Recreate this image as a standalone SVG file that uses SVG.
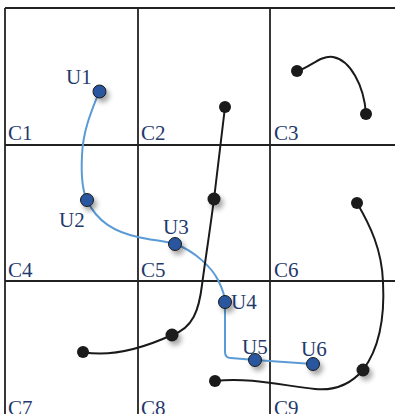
<svg xmlns="http://www.w3.org/2000/svg" width="395" height="414" viewBox="0 0 395 414">
<defs>
<filter id="sh" x="-100%" y="-100%" width="300%" height="300%">
<feDropShadow dx="3" dy="4" stdDeviation="2.5" flood-color="#000" flood-opacity="0.35"/>
</filter>
<style>
.grid{stroke:#222;stroke-width:1.8;fill:none}
.lbl{font-family:"Liberation Serif","Times New Roman",serif;font-size:21px;fill:#1f3a6b}
.blue{stroke:#5b9bd5;stroke-width:2;fill:none}
.blk{stroke:#1a1a1a;stroke-width:2;fill:none}
.u{fill:#2a56a0;stroke:#1a1a1a;stroke-width:1}
.d{fill:#1a1a1a}
</style>
</defs>
<rect width="395" height="414" fill="#fff"/>
<g id="grid" class="grid">
<line x1="5" y1="8" x2="5" y2="414"/>
<line x1="138" y1="8" x2="138" y2="414"/>
<line x1="270" y1="8" x2="270" y2="414"/>
<line x1="5" y1="8" x2="395" y2="8"/>
<line x1="5" y1="145" x2="395" y2="145"/>
<line x1="5" y1="281" x2="395" y2="281"/>
</g>
<g id="cells" class="lbl">
<text id="C1" x="8" y="140">C1</text>
<text id="C2" x="141" y="140">C2</text>
<text id="C3" x="274" y="140">C3</text>
<text id="C4" x="8" y="277">C4</text>
<text id="C5" x="141" y="277">C5</text>
<text id="C6" x="274" y="277">C6</text>
<text id="C7" x="8" y="415">C7</text>
<text id="C8" x="141" y="415">C8</text>
<text id="C9" x="274" y="415">C9</text>
</g>
<g id="connectors">
<path class="blue" d="M99,92 C92,110 83,130 82,155 C81,175 82,190 87,200 C97,222 115,232 138,237 C150,240 165,241 175,244 C195,251 212,268 218,280 C222,288 225,295 225,302 L225,352 Q225,358 231,358 L255,360 L313,364"/>
<path class="blk" d="M225,107 L214,199 C210,230 205,262 202,285 C199,310 193,328 172,335 C150,345 115,358 83,352"/>
<path class="blk" d="M297,71 C310,68 320,55 333,57 C350,60 364,85 366,114"/>
<path class="blk" d="M357,203 C370,225 382,250 383,282 C385,320 378,350 363,370 C350,385 335,391 315,389 C285,386 250,377 215,381"/>
</g>
<g id="dots">
<circle id="d1" class="d" cx="225" cy="107" r="6"/>
<circle id="d2" class="d" cx="214" cy="199" r="6.5" filter="url(#sh)"/>
<circle id="d3" class="d" cx="172" cy="335" r="6.5" filter="url(#sh)"/>
<circle id="d4" class="d" cx="83" cy="352" r="6"/>
<circle id="d5" class="d" cx="297" cy="71" r="6"/>
<circle id="d6" class="d" cx="366" cy="114" r="6"/>
<circle id="d7" class="d" cx="357" cy="203" r="6"/>
<circle id="d8" class="d" cx="363" cy="370" r="6.5" filter="url(#sh)"/>
<circle id="d9" class="d" cx="215" cy="381" r="6"/>
</g>
<g id="U1"><circle class="u" cx="99.5" cy="91.5" r="6.5" filter="url(#sh)"/><text class="lbl" x="66" y="84">U1</text></g>
<g id="U2"><circle class="u" cx="87" cy="200" r="6.5" filter="url(#sh)"/><text class="lbl" x="59" y="227">U2</text></g>
<g id="U3"><circle class="u" cx="175" cy="244" r="6.5" filter="url(#sh)"/><text class="lbl" x="163" y="234">U3</text></g>
<g id="U4"><circle class="u" cx="225" cy="302" r="6.5" filter="url(#sh)"/><text class="lbl" x="231" y="309">U4</text></g>
<g id="U5"><circle class="u" cx="255" cy="360" r="6.5" filter="url(#sh)"/><text class="lbl" x="242" y="354">U5</text></g>
<g id="U6"><circle class="u" cx="313" cy="364" r="6.5" filter="url(#sh)"/><text class="lbl" x="301" y="356">U6</text></g>
</svg>
